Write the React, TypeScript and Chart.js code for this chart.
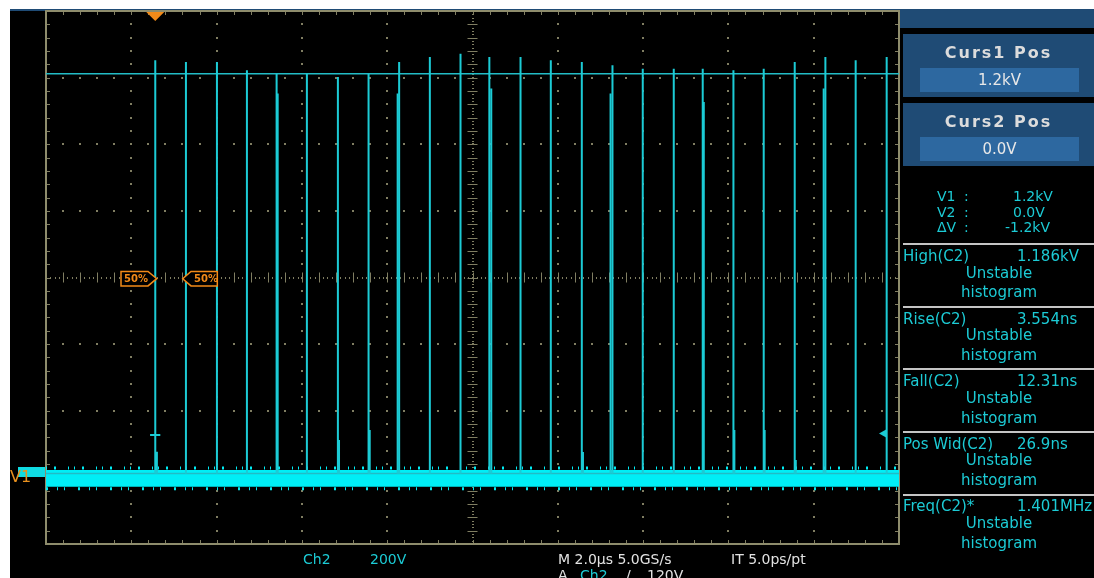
import React, { useEffect, useRef } from "react";
import { Chart, registerables } from "chart.js";

Chart.register(...registerables);

// ---- data (time in µs, voltage in V) ----
const timeRange = [0, 20]; // 10 div x 2.0 µs
const voltRange = [-212, 1388]; // 8 div x 200 V
const pulseTimes = [2.562, 3.281, 4.008, 4.711, 5.407, 6.117, 6.844, 7.563, 8.28, 9.0, 9.719, 10.395, 11.126, 11.836, 12.563, 13.282, 13.992, 14.719, 15.398, 16.118, 16.828, 17.555, 18.274, 18.984, 19.711];
const pulsePeaks = [1240, 1235, 1235, 1210, 1200, 1200, 1190, 1200, 1235, 1250, 1260, 1250, 1250, 1240, 1235, 1225, 1215, 1215, 1215, 1210, 1215, 1235, 1250, 1240, 1250];
const echoTimes = [5.432, 8.245, 10.44, 13.237, 15.423, 18.234];
const echoPeaks = [1140, 1140, 1155, 1140, 1115, 1155];
const glitchTimes = [2.6, 6.87, 7.59, 12.59, 16.14, 16.85, 17.58];
const glitchPeaks = [65, 100, 130, 64, 130, 130, 40];
const trigMarkTimes = [2.44, 2.68];
const trigMarkLevel = 115;
const noiseBand = [10, -40];
const noiseEdges = [16, -46];
const cursorLevels = [1200, 0];
const triggerTime = 2.562;
const triggerLevel = 120;

const CYAN = "#1ccbd5";
const BAND = "#00eef6";
const GRID = "#807e62";
const ORANGE = "#f28a18";
const FONT = "'DejaVu Sans', sans-serif";

const graticule = {
  id: "graticule",
  beforeDatasetsDraw(chart: any) {
    const ctx = chart.ctx;
    const a = chart.chartArea;
    const dx = (a.right - a.left) / 10;
    const dy = (a.bottom - a.top) / 8;
    const cx = a.left + 5 * dx;
    const cy = a.top + 4 * dy;
    ctx.save();
    ctx.fillStyle = GRID;
    for (let i = 1; i < 10; i++) {
      if (i === 5) continue;
      const x = a.left + i * dx;
      for (let j = 0; j <= 40; j++) {
        const y = a.top + (j * dy) / 5;
        ctx.fillRect(Math.round(x) - 1, Math.round(y) - 1, 2, 2);
      }
    }
    for (let j = 1; j < 8; j++) {
      if (j === 4) continue;
      const y = a.top + j * dy;
      for (let i = 0; i <= 50; i++) {
        const x = a.left + (i * dx) / 5;
        ctx.fillRect(Math.round(x) - 1, Math.round(y) - 1, 2, 2);
      }
    }
    for (let y = a.top; y <= a.bottom; y += dy / 20) ctx.fillRect(Math.round(cx) - 1, Math.round(y), 2, 1);
    for (let x = a.left; x <= a.right; x += dx / 20) ctx.fillRect(Math.round(x), Math.round(cy) - 1, 1, 2);
    ctx.strokeStyle = GRID;
    ctx.lineWidth = 1;
    ctx.beginPath();
    for (let j = 0; j <= 40; j++) {
      const y = Math.round(a.top + (j * dy) / 5) + 0.5;
      ctx.moveTo(cx - 5, y);
      ctx.lineTo(cx + 5, y);
      ctx.moveTo(a.left, y);
      ctx.lineTo(a.left + 4, y);
      ctx.moveTo(a.right, y);
      ctx.lineTo(a.right - 4, y);
    }
    for (let i = 0; i <= 50; i++) {
      const x = Math.round(a.left + (i * dx) / 5) + 0.5;
      ctx.moveTo(x, cy - 5);
      ctx.lineTo(x, cy + 5);
      ctx.moveTo(x, a.top);
      ctx.lineTo(x, a.top + 4);
      ctx.moveTo(x, a.bottom);
      ctx.lineTo(x, a.bottom - 4);
    }
    ctx.stroke();
    ctx.lineWidth = 2;
    ctx.strokeStyle = "#8e8c6c";
    ctx.strokeRect(a.left, a.top, a.right - a.left, a.bottom - a.top);
    ctx.restore();
  },
  afterDatasetsDraw(chart: any) {
    const ctx = chart.ctx;
    const a = chart.chartArea;
    const xs = chart.scales.x;
    const ys = chart.scales.y;
    ctx.save();
    // trigger position marker (top)
    const tx = xs.getPixelForValue(triggerTime);
    ctx.fillStyle = ORANGE;
    ctx.beginPath();
    ctx.moveTo(tx - 9, a.top + 1);
    ctx.lineTo(tx + 9, a.top + 1);
    ctx.lineTo(tx, a.top + 10);
    ctx.closePath();
    ctx.fill();
    // trigger level marker (right)
    const ty = ys.getPixelForValue(triggerLevel);
    ctx.fillStyle = CYAN;
    ctx.beginPath();
    ctx.moveTo(a.right - 20, ty);
    ctx.lineTo(a.right - 12, ty - 4.5);
    ctx.lineTo(a.right - 12, ty + 4.5);
    ctx.closePath();
    ctx.fill();
    // 50% measurement gate markers
    ctx.strokeStyle = ORANGE;
    ctx.lineWidth = 1.5;
    ctx.fillStyle = "#000";
    const my = 278.7;
    ctx.beginPath();
    ctx.moveTo(121, my - 7.2);
    ctx.lineTo(148, my - 7.2);
    ctx.lineTo(156.7, my);
    ctx.lineTo(148, my + 7.2);
    ctx.lineTo(121, my + 7.2);
    ctx.closePath();
    ctx.fill();
    ctx.stroke();
    ctx.beginPath();
    ctx.moveTo(217.3, my - 7.2);
    ctx.lineTo(191, my - 7.2);
    ctx.lineTo(182.7, my);
    ctx.lineTo(191, my + 7.2);
    ctx.lineTo(217.3, my + 7.2);
    ctx.closePath();
    ctx.fill();
    ctx.stroke();
    ctx.restore();
  },
};

type Txt = { t: string; x: number; y: number; size: number; color: string; bold?: boolean; center?: number; ls?: number };

export default function App() {
  const ref = useRef<HTMLCanvasElement>(null);

  useEffect(() => {
    const canvas = ref.current;
    if (!canvas) return;
    const pulseData: any[] = [];
    pulseTimes.forEach((t, i) => {
      pulseData.push({ x: t, y: 0 }, { x: t, y: pulsePeaks[i] }, { x: t, y: null });
    });
    const echoData: any[] = [];
    echoTimes.forEach((t, i) => {
      echoData.push({ x: t, y: 0 }, { x: t, y: echoPeaks[i] }, { x: t, y: null });
    });
    const glitchData: any[] = [];
    glitchTimes.forEach((t, i) => {
      glitchData.push({ x: t, y: 0 }, { x: t, y: glitchPeaks[i] }, { x: t, y: null });
    });
    glitchData.push({ x: trigMarkTimes[0], y: trigMarkLevel }, { x: trigMarkTimes[1], y: trigMarkLevel });

    const line = (data: any[], color: string, width: number, extra: any = {}) => ({
      data,
      borderColor: color,
      backgroundColor: color,
      borderWidth: width,
      pointRadius: 0,
      tension: 0,
      spanGaps: false,
      ...extra,
    });

    const chart = new Chart(canvas, {
      type: "line",
      data: {
        datasets: [
          line(pulseData, CYAN, 2),
          line(echoData, CYAN, 2),
          line(glitchData, CYAN, 2),
          line(timeRange.map((t) => ({ x: t, y: cursorLevels[0] })), "#22bcc6", 1.5),
          line(timeRange.map((t) => ({ x: t, y: cursorLevels[1] })), "#22bcc6", 1.5),
          line(timeRange.map((t) => ({ x: t, y: noiseEdges[0] })), BAND, 3, { borderDash: [1, 7, 2, 12, 1, 5], borderCapStyle: "butt" }),
          line(timeRange.map((t) => ({ x: t, y: noiseEdges[1] })), BAND, 3, { borderDash: [2, 9, 1, 6, 1, 13], borderCapStyle: "butt" }),
          line(timeRange.map((t) => ({ x: t, y: noiseBand[0] })), BAND, 0, { fill: "+1", backgroundColor: BAND }),
          line(timeRange.map((t) => ({ x: t, y: noiseBand[1] })), BAND, 0),
        ],
      },
      options: {
        animation: false,
        responsive: false,
        maintainAspectRatio: false,
        devicePixelRatio: 1,
        layout: { padding: { left: 46, top: 11, right: 195, bottom: 34 } },
        plugins: { legend: { display: false }, tooltip: { enabled: false } },
        events: [],
        scales: {
          x: { type: "linear", min: timeRange[0], max: timeRange[1], display: false },
          y: { type: "linear", min: voltRange[0], max: voltRange[1], display: false },
        },
      },
      plugins: [graticule],
    } as any);
    return () => chart.destroy();
  }, []);

  const capTop = (cap: number, size: number) => cap - 0.117 * size;

  const texts: Txt[] = [
    { t: "Curs1 Pos", x: 903, center: 191, y: capTop(46.7, 16), size: 16, color: "#dcdcdc", bold: true, ls: 2 },
    { t: "1.2kV", x: 920, center: 159, y: capTop(75, 15), size: 15, color: "#e8e8e8" },
    { t: "Curs2 Pos", x: 903, center: 191, y: capTop(115.7, 16), size: 16, color: "#dcdcdc", bold: true, ls: 2 },
    { t: "0.0V", x: 920, center: 159, y: capTop(144, 15), size: 15, color: "#e8e8e8" },
    { t: "V1", x: 937, y: capTop(191, 14), size: 14, color: CYAN },
    { t: ":", x: 964, y: capTop(191, 14), size: 14, color: CYAN },
    { t: "1.2kV", x: 1013, y: capTop(191, 14), size: 14, color: CYAN },
    { t: "V2", x: 937, y: capTop(206.7, 14), size: 14, color: CYAN },
    { t: ":", x: 964, y: capTop(206.7, 14), size: 14, color: CYAN },
    { t: "0.0V", x: 1013, y: capTop(206.7, 14), size: 14, color: CYAN },
    { t: "ΔV", x: 937, y: capTop(221.5, 14), size: 14, color: CYAN },
    { t: ":", x: 964, y: capTop(221.5, 14), size: 14, color: CYAN },
    { t: "-1.2kV", x: 1005, y: capTop(221.5, 14), size: 14, color: CYAN },
  ];

  const measures = [
    ["High(C2)", "1.186kV"],
    ["Rise(C2)", "3.554ns"],
    ["Fall(C2)", "12.31ns"],
    ["Pos Wid(C2)", "26.9ns"],
    ["Freq(C2)*", "1.401MHz"],
  ];
  const blockCaps = [250.7, 313.3, 376, 438.3, 501];
  measures.forEach((m, i) => {
    const c = blockCaps[i];
    texts.push({ t: m[0], x: 903, y: capTop(c, 15), size: 15, color: CYAN });
    texts.push({ t: m[1], x: 1017, y: capTop(c, 15), size: 15, color: CYAN });
    texts.push({ t: "Unstable", x: 903, center: 192, y: capTop(c + 16.7, 15), size: 15, color: CYAN });
    texts.push({ t: "histogram", x: 903, center: 192, y: capTop(c + 36.3, 15), size: 15, color: CYAN });
  });

  texts.push(
    { t: "Ch2", x: 303, y: capTop(553.3, 14), size: 14, color: CYAN },
    { t: "200V", x: 370, y: capTop(553.3, 14), size: 14, color: CYAN },
    { t: "M 2.0µs 5.0GS/s", x: 558, y: capTop(553.3, 14), size: 14, color: "#e2e2e2" },
    { t: "IT 5.0ps/pt", x: 731, y: capTop(553.3, 14), size: 14, color: "#e2e2e2" },
    { t: "A", x: 558, y: capTop(569.3, 14), size: 14, color: "#e2e2e2" },
    { t: "Ch2", x: 580, y: capTop(569.3, 14), size: 14, color: CYAN },
    { t: "/", x: 626, y: capTop(569.3, 14), size: 14, color: "#e2e2e2" },
    { t: "120V", x: 647, y: capTop(569.3, 14), size: 14, color: "#e2e2e2" },
    { t: "50%", x: 124, y: 273.5, size: 10, color: ORANGE, bold: true },
    { t: "50%", x: 194, y: 273.5, size: 10, color: ORANGE, bold: true },
    { t: "V1", x: 10, y: capTop(470.5, 16), size: 16, color: "#e8901e" }
  );

  const separators = [244, 306.7, 369, 432, 495];

  return (
    <div style={{ position: "fixed", left: 0, top: 0, width: 1094, height: 578, background: "#fff", overflow: "hidden" }}>
      <div style={{ position: "absolute", left: 10, top: 9, width: 1084, height: 569, background: "#000" }} />
      <div style={{ position: "absolute", left: 10, top: 9, width: 1084, height: 2, background: "#1f4b75" }} />
      <div style={{ position: "absolute", left: 900, top: 9, width: 194, height: 19, background: "#1f4b75" }} />
      <div style={{ position: "absolute", left: 903, top: 34, width: 191, height: 63, background: "#1f4b75" }} />
      <div style={{ position: "absolute", left: 920, top: 68, width: 159, height: 24, background: "#2d68a0" }} />
      <div style={{ position: "absolute", left: 903, top: 103, width: 191, height: 63, background: "#1f4b75" }} />
      <div style={{ position: "absolute", left: 920, top: 137, width: 159, height: 24, background: "#2d68a0" }} />
      {separators.map((y, i) => (
        <div key={"s" + i} style={{ position: "absolute", left: 903, top: y - 1, width: 191, height: 2, background: "#c4c4c4" }} />
      ))}
      <div style={{ position: "absolute", left: 18, top: 467, width: 28, height: 10, background: "#10dbe2" }} />
      <canvas ref={ref} width={1094} height={578} style={{ position: "absolute", left: 0, top: 0, width: 1094, height: 578 }} />
      {texts.map((d, i) => (
        <div
          key={"t" + i}
          style={{
            position: "absolute",
            left: d.x,
            top: d.y,
            width: d.center,
            textAlign: d.center ? "center" : "left",
            fontFamily: FONT,
            fontSize: d.size,
            lineHeight: 1,
            fontWeight: d.bold ? "bold" : "normal",
            letterSpacing: d.ls ? d.ls : 0,
            color: d.color,
            whiteSpace: "nowrap",
          }}
        >
          {d.t}
        </div>
      ))}
    </div>
  );
}
